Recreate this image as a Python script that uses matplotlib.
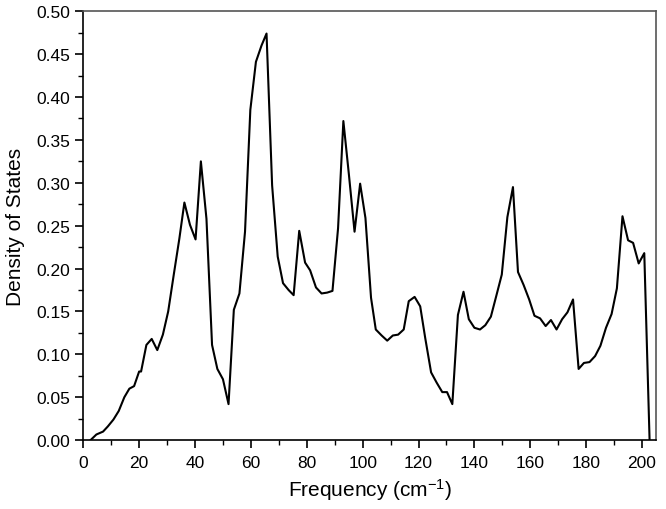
import matplotlib
matplotlib.use("Agg")
from matplotlib import pyplot as plt
from matplotlib.ticker import MultipleLocator
import numpy as np

# frequency (cm^-1) and density of states
freq = [2.6, 4.7, 7.1, 8.8, 10.8, 12.7, 14.7, 16.5, 18.2, 20.0, 20.7, 22.6, 24.5,
        26.5, 28.5, 30.4, 32.4, 34.4, 36.2, 38.2, 40.2, 42.1, 44.1, 46.1, 48.0,
        50.0, 52.0, 53.9, 55.9, 57.9, 59.8, 61.8, 63.8, 65.6, 67.6, 69.6, 71.5,
        73.5, 75.3, 77.3, 79.4, 81.2, 83.3, 85.3, 87.3, 89.2, 91.2, 93.1, 95.1,
        97.1, 99.1, 101.0, 103.0, 104.7, 106.8, 108.8, 110.8, 112.7, 114.7,
        116.5, 118.6, 120.6, 122.4, 124.5, 126.5, 128.5, 130.2, 132.1, 134.1,
        136.1, 138.0, 140.0, 142.0, 143.9, 145.9, 147.9, 149.8, 151.8, 153.8,
        155.6, 157.6, 159.6, 161.5, 163.5, 165.5, 167.4, 169.4, 171.4, 173.3,
        175.3, 177.3, 179.2, 181.2, 183.2, 185.1, 187.1, 189.1, 191.0, 193.0,
        195.0, 196.8, 198.8, 200.8, 202.7]
dos = [0.0, 0.0066, 0.010, 0.016, 0.024, 0.034, 0.050, 0.060, 0.063, 0.080, 0.080,
       0.111, 0.118, 0.105, 0.123, 0.150, 0.193, 0.235, 0.277, 0.251, 0.234,
       0.325, 0.258, 0.111, 0.083, 0.071, 0.042, 0.152, 0.171, 0.243, 0.385,
       0.441, 0.460, 0.474, 0.297, 0.214, 0.183, 0.175, 0.169, 0.244, 0.207,
       0.198, 0.178, 0.171, 0.172, 0.174, 0.247, 0.372, 0.309, 0.243, 0.299,
       0.259, 0.166, 0.129, 0.122, 0.116, 0.122, 0.123, 0.129, 0.162, 0.167,
       0.156, 0.119, 0.079, 0.067, 0.056, 0.056, 0.042, 0.146, 0.173, 0.141,
       0.131, 0.129, 0.134, 0.144, 0.169, 0.193, 0.260, 0.295, 0.196, 0.181,
       0.164, 0.145, 0.142, 0.133, 0.140, 0.129, 0.141, 0.149, 0.164, 0.083,
       0.090, 0.091, 0.098, 0.110, 0.131, 0.147, 0.177, 0.261, 0.233, 0.230,
       0.206, 0.218, 0.0]

plt.rcParams['font.family'] = ['Liberation Sans', 'DejaVu Sans']
plt.rcParams['mathtext.default'] = 'regular'

fig = plt.figure(figsize=(6.66, 5.10), dpi=100)
ax = fig.add_axes([0.125, 0.135, 0.86, 0.841])
ax.plot(freq, dos, color='black', lw=1.5)

ax.set_xlim(0, 205)
ax.set_ylim(0, 0.5)
ax.xaxis.set_major_locator(MultipleLocator(20))
ax.xaxis.set_minor_locator(MultipleLocator(10))
ax.yaxis.set_major_locator(MultipleLocator(0.05))
ax.yaxis.set_minor_locator(MultipleLocator(0.025))
ax.yaxis.set_major_formatter(matplotlib.ticker.FormatStrFormatter('%.2f'))
ax.tick_params(which='major', direction='out', length=6, width=1.2, labelsize=12.5)
ax.tick_params(which='minor', direction='out', length=3.5, width=1.0)
ax.tick_params(axis='x', which='major', pad=5)
ax.tick_params(axis='y', which='major', pad=3.5)
for s in ax.spines.values():
    s.set_linewidth(1.2)
ax.spines['top'].set_color('#555555')
ax.spines['right'].set_color('#555555')

ax.set_xlabel("Frequency (cm$^{-1}$)", fontsize=15)
ax.set_ylabel("Density of States", fontsize=15, labelpad=8)

fig.savefig("out.png", dpi=100)
